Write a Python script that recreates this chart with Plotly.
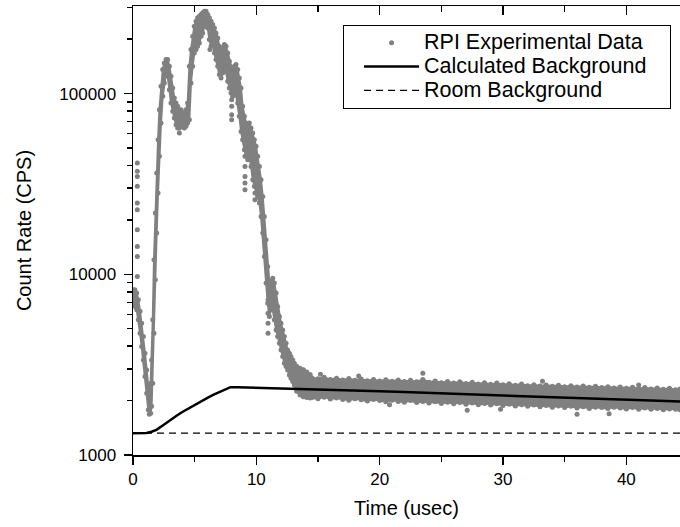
import plotly.graph_objects as go

# ---------------- data ----------------
# Dense experimental cloud described by its upper / lower edges vs time
band_time_us = [
    0.00, 0.15, 0.30, 0.43, 0.57, 0.70, 0.84, 0.97, 1.11, 1.24, 1.32, 1.43, 1.51, 1.60,
    1.70, 1.81, 1.92, 2.03, 2.14, 2.27, 2.41, 2.54, 2.68, 2.81, 2.95, 3.08, 3.22, 3.35,
    3.49, 3.62, 3.76, 3.89, 4.03, 4.16, 4.30, 4.43, 4.57, 4.70, 4.84, 4.97, 5.11, 5.24,
    5.38, 5.52, 5.65, 5.79, 5.92, 6.06, 6.19, 6.33, 6.46, 6.60, 6.73, 6.87, 7.00, 7.14,
    7.27, 7.41, 7.54, 7.68, 7.81, 7.95, 8.08, 8.22, 8.35, 8.49, 8.62, 8.76, 8.89, 9.03,
    9.16, 9.30, 9.43, 9.57, 9.71, 9.84, 9.98, 10.11, 10.25, 10.38, 10.52, 10.65, 10.79,
    10.92, 11.06, 11.19, 11.33, 11.46, 11.60, 11.73, 11.87, 12.00, 12.14, 12.27, 12.41,
    12.54, 12.68, 12.81, 12.95, 13.08, 13.27, 13.54, 13.81, 14.09, 14.36,
    14.5, 15.0, 15.5, 16.0, 16.5, 17.0, 17.5, 18.0, 18.5, 19.0, 19.5, 20.0, 20.5, 21.0,
    21.5, 22.0, 22.5, 23.0, 23.5, 24.0, 24.5, 25.0, 25.5, 26.0, 26.5, 27.0, 27.5, 28.0,
    28.5, 29.0, 29.5, 30.0, 30.5, 31.0, 31.5, 32.0, 32.5, 33.0, 33.5, 34.0, 34.5, 35.0,
    35.5, 36.0, 36.5, 37.0, 37.5, 38.0, 38.5, 39.0, 39.5, 40.0, 40.5, 41.0, 41.5, 42.0,
    42.5, 43.0, 43.5, 44.0, 44.35,
]
band_upper_cps = [
    8210, 8210, 7870, 7230, 6250, 5365, 4525, 3660, 2957, 2391, 2100, 2495, 3360, 5600,
    12030, 21830, 36360, 55600, 81500, 109800, 135800, 147900, 154300, 154300, 141700, 124800, 107500, 94600,
    88800, 85100, 81500, 81500, 78200, 78200, 81500, 88800, 141700, 175300, 207800, 236100, 251600, 262600,
    268300, 274000, 279900, 285900, 285900, 274000, 262600, 251600, 241200, 231000, 216800, 203400, 183000, 164500,
    179100, 186900, 183000, 168000, 151100, 138700, 133000, 141700, 144800, 135800, 122200, 107500, 85100, 74900,
    68800, 65900, 68800, 64500, 60500, 55600, 51100, 44960, 39570, 33390, 26990, 20920, 15530,
    11050, 8940, 9120, 9520, 8940, 7870, 6635, 5840, 5365, 4925, 4525, 4157,
    3817, 3659, 3506, 3360, 3221, 3100, 3021, 2957, 2880, 2790,
    2680, 2640, 2690, 2620, 2660, 2600, 2650, 2590, 2630, 2580, 2620, 2570, 2610, 2560,
    2600, 2550, 2590, 2540, 2620, 2530, 2570, 2510, 2550, 2500, 2540, 2490, 2530, 2470,
    2510, 2460, 2500, 2450, 2480, 2430, 2470, 2420, 2450, 2410, 2440, 2400, 2430, 2390,
    2420, 2380, 2410, 2370, 2400, 2360, 2390, 2350, 2380, 2340, 2370, 2330, 2360, 2320,
    2350, 2310, 2340, 2300, 2320,
]
band_lower_cps = [
    6920, 6640, 6360, 5600, 4720, 3990, 3360, 2716, 2196, 1780, 1680, 1702, 1860, 2495,
    4722, 9325, 16910, 28160, 44960, 68800, 96700, 114600, 130200, 124800, 105200, 88800, 79800, 73300,
    67300, 64500, 64500, 65900, 65900, 64500, 65900, 68800, 71800, 114600, 141700, 168000, 175300, 183000,
    190900, 207800, 216800, 236100, 246300, 231100, 199200, 183000, 186900, 168000, 154300, 141700, 127500, 122100,
    130200, 138700, 132900, 117100, 107500, 100900, 96700, 105200, 98700, 88800, 74900, 61800, 55600, 48960,
    44960, 43090, 44960, 39570, 33390, 30670, 28160, 26990, 24790, 20920, 16910, 12560, 8940,
    6920, 5840, 6360, 6360, 5600, 4925, 4525, 4157, 3817, 3506, 3221, 3086,
    2957, 2775, 2660, 2550, 2440, 2250, 2150, 2100, 2080, 2070,
    2080, 2050, 2090, 2040, 2070, 2030, 2010, 2050, 2020, 1990, 2030, 2000, 1970, 2010,
    1980, 1960, 2000, 1950, 1980, 1940, 1970, 1930, 1960, 1920, 1950, 1910, 1940, 1900,
    1930, 1890, 1920, 1880, 1910, 1870, 1900, 1860, 1890, 1850, 1880, 1840, 1870, 1830,
    1860, 1820, 1850, 1810, 1840, 1830, 1810, 1840, 1820, 1800, 1830, 1790, 1820, 1790,
    1810, 1780, 1800, 1790, 1780,
]

# isolated experimental points lying outside the dense cloud
sparse_time_us = [
    0.35, 0.35, 0.35, 0.35, 0.35, 0.35, 0.35, 0.35, 0.35, 0.35,
    3.76, 6.24, 8.00, 8.00, 8.00, 8.00,
    9.08, 9.08, 9.08, 9.08, 9.08, 9.89, 9.89, 9.89,
    10.95, 10.95, 10.95, 10.95,
    13.8, 15.2, 18.3, 20.8, 23.5, 27.1, 29.8, 33.2, 36.0, 38.6, 41.0,
]
sparse_cps = [
    41290, 37140, 34830, 30670, 24790, 22770, 17640, 14270, 12560, 9730,
    60500, 175300, 92600, 85100, 76500, 71800,
    44960, 39570, 34830, 31990, 29390, 30670, 28160, 25870,
    7230, 6095, 5365, 4722,
    2960, 2800, 2740, 1900, 2835, 1770, 1790, 2560, 1680, 1690, 2440,
]

# calculated background curve
bg_time_us = [0.0, 0.8, 1.1, 1.5, 1.9, 2.5, 3.0, 3.5, 4.0, 4.5, 5.0, 5.5, 6.0, 6.5, 7.0,
              7.5, 7.9, 8.5, 10.0, 12.0, 14.0, 16.0, 18.0, 20.0, 22.0, 24.0, 26.0, 28.0,
              30.0, 32.0, 34.0, 36.0, 38.0, 40.0, 42.0, 44.35]
bg_calc_cps = [1320, 1320, 1325, 1345, 1378, 1470, 1560, 1645, 1729, 1812, 1898, 1980, 2066,
               2149, 2234, 2321, 2372, 2368, 2355, 2338, 2310, 2285, 2270, 2255, 2230, 2205,
               2180, 2150, 2120, 2100, 2080, 2060, 2040, 2020, 2000, 1978]

room_bg_time_us = [0.0, 44.35]
room_bg_cps = [1320, 1320]

x_tick_vals = [0, 10, 20, 30, 40]
x_minor_vals = [5, 15, 25, 35]
y_tick_vals = [1000, 10000, 100000]
y_tick_text = ["1000", "10000", "100000"]
y_minor_vals = [2000, 3000, 4000, 5000, 6000, 7000, 8000, 9000,
                20000, 30000, 40000, 50000, 60000, 70000, 80000, 90000, 200000, 300000]

series_names = ["RPI Experimental Data", "Calculated Background", "Room Background"]

GRAY = "#808080"
FONT = "Liberation Sans, Arial, sans-serif"


def legend_label(text, pad=0):
    return '<span style="font-size:21.5px">' + text + "\u00a0" * pad + "</span>"


fig = go.Figure()

# filled body of the dense data cloud
fig.add_trace(go.Scatter(
    x=band_time_us + band_time_us[::-1],
    y=band_upper_cps + band_lower_cps[::-1],
    fill="toself", fillcolor=GRAY, mode="lines",
    line=dict(color=GRAY, width=2), showlegend=False, hoverinfo="skip",
))

fig.add_trace(go.Scatter(
    x=band_time_us + band_time_us + sparse_time_us,
    y=band_upper_cps + band_lower_cps + sparse_cps,
    mode="markers", name=legend_label(series_names[0]),
    marker=dict(color=GRAY, size=5),
))

fig.add_trace(go.Scatter(
    x=bg_time_us, y=bg_calc_cps, mode="lines", name=legend_label(series_names[1], pad=3),
    line=dict(color="black", width=2.5),
))

fig.add_trace(go.Scatter(
    x=room_bg_time_us, y=room_bg_cps, mode="lines", name=legend_label(series_names[2]),
    line=dict(color="black", width=1.2, dash="7px,5px"),
))

# helper trace for the top axis frame
fig.add_trace(go.Scatter(x=[None], y=[None], xaxis="x2", showlegend=False, hoverinfo="skip"))

fig.update_layout(
    width=680, height=527,
    margin=dict(l=133, r=0, t=6, b=72, pad=0),
    paper_bgcolor="white", plot_bgcolor="white",
    font=dict(family=FONT, color="black", size=17),
    showlegend=True,
    hovermode=False,
    legend=dict(
        x=0.384, y=0.958, xanchor="left", yanchor="top",
        bgcolor="white", bordercolor="black", borderwidth=1,
        font=dict(family=FONT, size=16, color="black"),
        itemwidth=55, indentation=15, tracegroupgap=0,
    ),
    xaxis=dict(
        range=[0, 44.35], showgrid=False, zeroline=False,
        showline=True, linecolor="black", linewidth=1.5,
        ticks="outside", ticklen=8, tickwidth=1.5, tickcolor="black",
        tickmode="array", tickvals=x_tick_vals,
        minor=dict(tickmode="array", tickvals=x_minor_vals, ticks="outside",
                   ticklen=5, tickwidth=1.5, tickcolor="black", showgrid=False),
        tickfont=dict(family=FONT, size=17),
        title=dict(text="Time (usec)", font=dict(family=FONT, size=20), standoff=13),
    ),
    xaxis2=dict(
        overlaying="x", side="top", matches="x", range=[0, 44.35],
        showgrid=False, zeroline=False, showticklabels=False,
        showline=True, linecolor="black", linewidth=1.5,
        ticks="inside", ticklen=9, tickwidth=1.5, tickcolor="black",
        tickmode="array", tickvals=x_tick_vals,
        minor=dict(tickmode="array", tickvals=x_minor_vals, ticks="inside",
                   ticklen=6, tickwidth=1.5, tickcolor="black", showgrid=False),
    ),
    yaxis=dict(
        type="log", range=[3, 5.485], showgrid=False, zeroline=False,
        showline=True, linecolor="black", linewidth=1.5,
        ticks="outside", ticklen=8, tickwidth=1.5, tickcolor="black",
        tickmode="array", tickvals=y_tick_vals, ticktext=y_tick_text,
        ticklabelstandoff=4,
        minor=dict(tickmode="array", tickvals=y_minor_vals, ticks="outside",
                   ticklen=5, tickwidth=1.5, tickcolor="black", showgrid=False),
        tickfont=dict(family=FONT, size=17),
        title=dict(text="Count Rate (CPS)", font=dict(family=FONT, size=20), standoff=22),
    ),
)

fig.write_html(
    "out.html",
    config={"displayModeBar": False, "staticPlot": True},
    post_script="document.body.style.margin='0px';",
)
